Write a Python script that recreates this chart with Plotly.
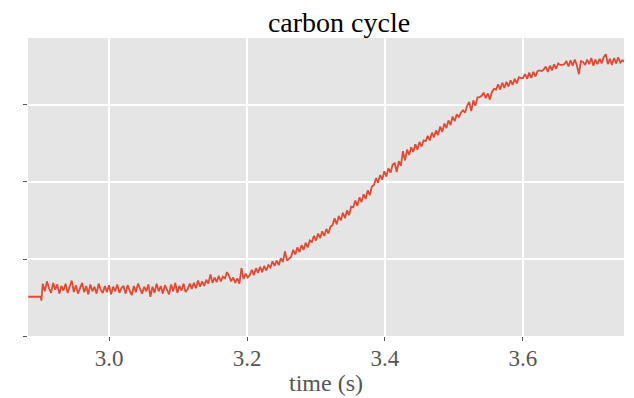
import plotly.graph_objects as go

# sample times (s)
time_s = [
    2.883, 2.901, 2.902,
    2.904, 2.907, 2.910, 2.913, 2.916, 2.919, 2.922, 2.925, 2.928, 2.931,
    2.934, 2.937, 2.940, 2.943, 2.946, 2.949, 2.952, 2.955, 2.958, 2.961,
    2.964, 2.967, 2.970, 2.973, 2.976, 2.979, 2.982, 2.985, 2.988, 2.991,
    2.994, 2.997, 3.000, 3.003, 3.006, 3.009, 3.012, 3.015, 3.018, 3.021,
    3.024, 3.027, 3.030, 3.033, 3.036, 3.039, 3.042, 3.045, 3.048, 3.051,
    3.054, 3.057, 3.060, 3.063, 3.066, 3.069, 3.072, 3.075, 3.078, 3.081,
    3.084, 3.087, 3.090, 3.093, 3.096, 3.099, 3.102, 3.105, 3.108, 3.111,
    3.114, 3.117, 3.120, 3.123, 3.126, 3.129, 3.132, 3.135, 3.138, 3.141,
    3.144, 3.147, 3.150, 3.153, 3.156, 3.159, 3.162, 3.165, 3.168, 3.171,
    3.174, 3.177, 3.180, 3.183, 3.186, 3.189, 3.192, 3.195, 3.198, 3.201,
    3.204, 3.207, 3.210, 3.213, 3.216, 3.219, 3.222, 3.225, 3.228, 3.231,
    3.234, 3.237, 3.240, 3.243, 3.246, 3.249, 3.252, 3.255, 3.258, 3.261,
    3.264, 3.267, 3.270, 3.273, 3.276, 3.279, 3.282, 3.285, 3.288, 3.291,
    3.294, 3.297, 3.300, 3.303, 3.306, 3.309, 3.312, 3.315, 3.318, 3.321,
    3.324, 3.327, 3.330, 3.333, 3.336, 3.339, 3.342, 3.345, 3.348, 3.351,
    3.354, 3.357, 3.360, 3.363, 3.366, 3.369, 3.372, 3.375, 3.378, 3.381,
    3.384, 3.387, 3.390, 3.393, 3.396, 3.399, 3.402, 3.405, 3.408, 3.411,
    3.414, 3.417, 3.420, 3.423, 3.426, 3.429, 3.432, 3.435, 3.438, 3.441,
    3.444, 3.447, 3.450, 3.453, 3.456, 3.459, 3.462, 3.465, 3.468, 3.471,
    3.474, 3.477, 3.480, 3.483, 3.486, 3.489, 3.492, 3.495, 3.498, 3.501,
    3.504, 3.507, 3.510, 3.513, 3.516, 3.519, 3.522, 3.525, 3.528, 3.531,
    3.534, 3.537, 3.540, 3.543, 3.546, 3.549, 3.552, 3.555, 3.558, 3.561,
    3.564, 3.567, 3.570, 3.573, 3.576, 3.579, 3.582, 3.585, 3.588, 3.591,
    3.594, 3.597, 3.600, 3.603, 3.606, 3.609, 3.612, 3.615, 3.618, 3.621,
    3.624, 3.627, 3.630, 3.633, 3.636, 3.639, 3.642, 3.645, 3.648, 3.651,
    3.654, 3.657, 3.660, 3.663, 3.666, 3.669, 3.672, 3.675, 3.678, 3.681,
    3.684, 3.687, 3.690, 3.693, 3.696, 3.699, 3.702, 3.705, 3.708, 3.711,
    3.714, 3.717, 3.720, 3.723, 3.726, 3.729, 3.732, 3.735, 3.738, 3.741,
    3.744, 3.747,
]

# carbon signal (arbitrary units)
carbon = [
    0.51, 0.51, 0.46,
    0.68, 0.58, 0.71, 0.62, 0.56, 0.69, 0.60, 0.67, 0.55, 0.65,
    0.59, 0.68, 0.56, 0.64, 0.72, 0.57, 0.66, 0.55, 0.63, 0.69,
    0.57, 0.65, 0.54, 0.67, 0.58, 0.64, 0.55, 0.68, 0.60, 0.56,
    0.65, 0.57, 0.66, 0.54, 0.64, 0.58, 0.67, 0.56, 0.62, 0.65,
    0.55, 0.66, 0.59, 0.53, 0.65, 0.57, 0.68, 0.60, 0.55, 0.64,
    0.58, 0.67, 0.51, 0.64, 0.56, 0.68, 0.58, 0.65, 0.55, 0.66,
    0.60, 0.54, 0.67, 0.58, 0.69, 0.56, 0.65, 0.59, 0.68, 0.57,
    0.61, 0.68, 0.61, 0.69, 0.62, 0.72, 0.64, 0.71, 0.65, 0.73,
    0.68, 0.80, 0.69, 0.76, 0.70, 0.78, 0.71, 0.77, 0.75, 0.83,
    0.78, 0.71, 0.76, 0.69, 0.75, 0.68, 0.88, 0.74, 0.81, 0.76,
    0.79, 0.86, 0.79, 0.88, 0.82, 0.90, 0.83, 0.91, 0.85, 0.92,
    0.89, 0.97, 0.91, 0.98, 0.92, 1.01, 0.96, 1.10, 0.98, 1.01,
    1.03, 1.12, 1.06, 1.15, 1.09, 1.18, 1.12, 1.21, 1.15, 1.24,
    1.22, 1.30, 1.24, 1.33, 1.27, 1.36, 1.30, 1.39, 1.33, 1.42,
    1.44, 1.53, 1.45, 1.56, 1.50, 1.60, 1.53, 1.63, 1.57, 1.68,
    1.67, 1.76, 1.69, 1.80, 1.74, 1.84, 1.78, 1.89, 1.83, 1.94,
    1.96, 2.05, 1.99, 2.09, 2.03, 2.14, 2.07, 2.18, 2.12, 2.22,
    2.25, 2.13, 2.27, 2.21, 2.40, 2.28, 2.42, 2.35, 2.45, 2.39,
    2.49, 2.42, 2.52, 2.46, 2.54, 2.53, 2.60, 2.54, 2.64, 2.58,
    2.67, 2.61, 2.72, 2.65, 2.76, 2.70, 2.80, 2.74, 2.85, 2.79,
    2.88, 2.84, 2.90, 2.93, 2.90, 2.99, 3.04, 2.92, 3.06, 2.99,
    3.10, 3.10, 3.12, 3.16, 3.09, 3.15, 3.07, 3.17, 3.21, 3.20,
    3.27, 3.20, 3.29, 3.22, 3.30, 3.24, 3.32, 3.26, 3.34, 3.28,
    3.36, 3.35, 3.35, 3.40, 3.34, 3.42, 3.35, 3.43, 3.37, 3.44,
    3.45, 3.44, 3.46, 3.50, 3.43, 3.51, 3.45, 3.53, 3.47, 3.54,
    3.52, 3.52, 3.53, 3.57, 3.50, 3.58, 3.51, 3.59, 3.52, 3.40,
    3.57, 3.56, 3.52, 3.59, 3.53, 3.61, 3.51, 3.59, 3.53, 3.60,
    3.54, 3.62, 3.66, 3.53, 3.60, 3.52, 3.61, 3.54, 3.62, 3.55,
    3.58, 3.56,
]

x_ticks = [3.0, 3.2, 3.4, 3.6]
x_tick_labels = ["3.0", "3.2", "3.4", "3.6"]
y_ticks = [0, 1, 2, 3]

FONT = "Liberation Serif"

fig = go.Figure(
    go.Scatter(
        x=time_s, y=carbon, mode="lines",
        line=dict(color="#E24A33", width=1.8),
        hoverinfo="skip",
    )
)

fig.update_layout(
    width=634, height=398,
    margin=dict(l=28, r=10, t=38, b=62, autoexpand=False),
    paper_bgcolor="white",
    plot_bgcolor="#E5E5E5",
    showlegend=False,
    font=dict(family=FONT, color="#555555"),
    title=dict(
        text="carbon cycle", x=(28 + 311) / 634, xanchor="center",
        y=1 - 22 / 398, yanchor="middle", yref="container",
        font=dict(family=FONT, size=28, color="black"),
    ),
)

fig.update_xaxes(
    range=[2.8826, 3.7464], automargin=False,
    tickvals=x_ticks, ticktext=x_tick_labels,
    ticks="outside", ticklen=4, tickcolor="#555555", tickwidth=1,
    ticklabelstandoff=-3,
    tickfont=dict(family=FONT, size=23, color="#555555"),
    showgrid=True, gridcolor="white", gridwidth=1.5,
    zeroline=False, showline=False,
    title=dict(text="time (s)", font=dict(family=FONT, size=24, color="#555555"), standoff=4),
)

fig.update_yaxes(
    range=[0, 3.87], automargin=False,
    tickvals=y_ticks, showticklabels=False,
    ticks="outside", ticklen=4, tickcolor="#555555", tickwidth=1,
    showgrid=True, gridcolor="white", gridwidth=1.5,
    zeroline=False, showline=False,
)

fig.write_html("out.html")
